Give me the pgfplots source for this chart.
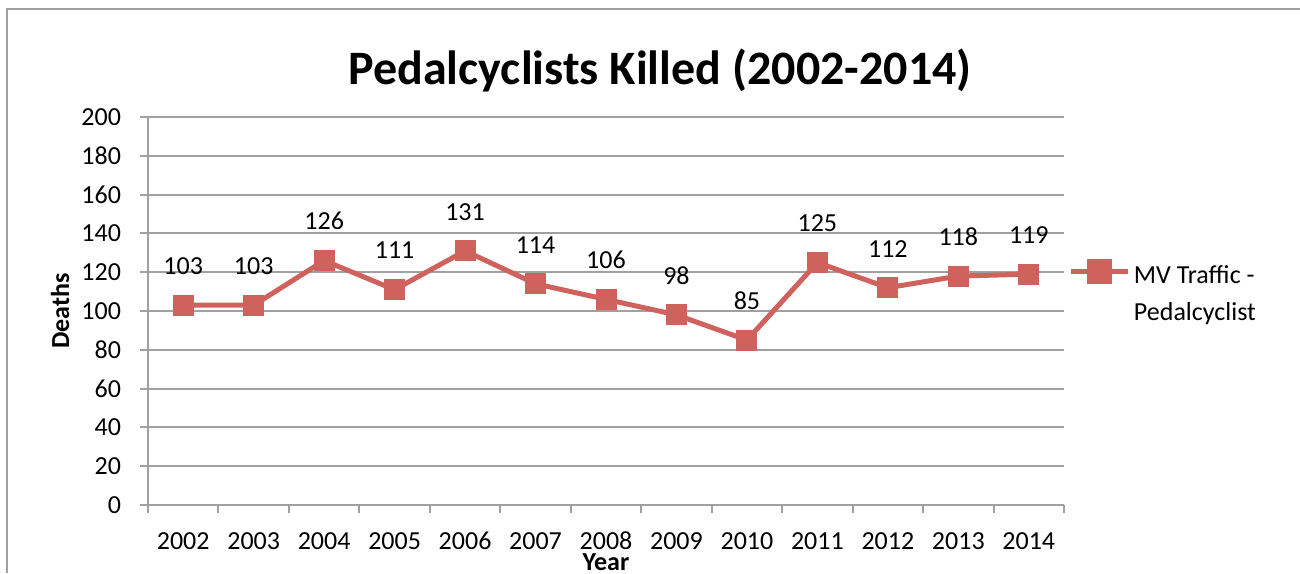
\documentclass[border=0pt]{standalone}
\usepackage{pgfplots}
\pgfplotsset{compat=1.18}
\usepackage{fontspec}
\setmainfont{Carlito}
\definecolor{ser}{RGB}{207,98,93}
\definecolor{gr}{RGB}{160,160,160}
\begin{document}
\begin{tikzpicture}
\useasboundingbox (0,0) rectangle (650pt,286.5pt);
\draw[gr,line width=1.2pt] (3.5pt,0) -- (3.5pt,282pt) -- (650pt,282pt);
\node[font=\bfseries\fontsize{24}{28}\selectfont] at (330pt,251.5pt) {Pedalcyclists Killed (2002-2014)};
\begin{axis}[
  at={(74pt,34pt)}, anchor=south west,
  scale only axis, width=458pt, height=194pt,
  xmin=-0.5, xmax=12.5, ymin=0, ymax=200,
  ytick={0,20,...,200},
  xtick={0,...,12},
  xticklabels={2002,2003,2004,2005,2006,2007,2008,2009,2010,2011,2012,2013,2014},
  minor xtick={-0.5,0.5,...,12.5},
  major x tick style={draw=none},
  tick align=outside,
  major tick length=4pt, minor tick length=4pt,
  tick style={gr,line width=1pt},
  ymajorgrids, grid style={gr,line width=1pt},
  axis x line*=bottom, axis y line*=left,
  axis line style={gr,line width=1pt},
  every axis plot/.append style={line width=2.5pt},
  ticklabel style={font=\fontsize{13}{15}\selectfont},
  /pgf/number format/assume math mode=true,
  xticklabel style={yshift=-5.5pt,text height=9pt,text depth=0pt},
  yticklabel style={xshift=-6pt},
  xlabel={\textbf{Year}}, ylabel={\textbf{Deaths}},
  label style={font=\fontsize{13}{15}\selectfont},
  xlabel style={at={(rel axis cs:0.5,0)},anchor=center,yshift=-28.5pt},
  ylabel style={at={(rel axis cs:0,0.5)},anchor=center,yshift=44pt},
  nodes near coords,
  every node near coord/.append style={font=\fontsize{13}{15}\selectfont,black,yshift=12pt,text height=9pt,text depth=0pt},
  legend style={at={(rel axis cs:1.005,0.651)},anchor=north west,draw=none,fill=none,
    nodes={font=\fontsize{13}{18.8}\selectfont},inner sep=0pt},
  legend image code/.code={\draw[#1,line width=2.5pt] (0pt,0pt) -- (28pt,0pt); \draw[ser,fill=ser] (9pt,-5pt) rectangle (19pt,5pt);},
]
\addplot[ser, mark=square*, mark size=5pt, mark options={fill=ser,line width=0pt}] coordinates {
(0,103) (1,103) (2,126) (3,111) (4,131) (5,114) (6,106) (7,98) (8,85) (9,125) (10,112) (11,118) (12,119)};
\addlegendentry{\begin{tabular}[t]{@{}l@{}}MV Traffic -\\Pedalcyclist\end{tabular}}
\end{axis}
\end{tikzpicture}
\end{document}
